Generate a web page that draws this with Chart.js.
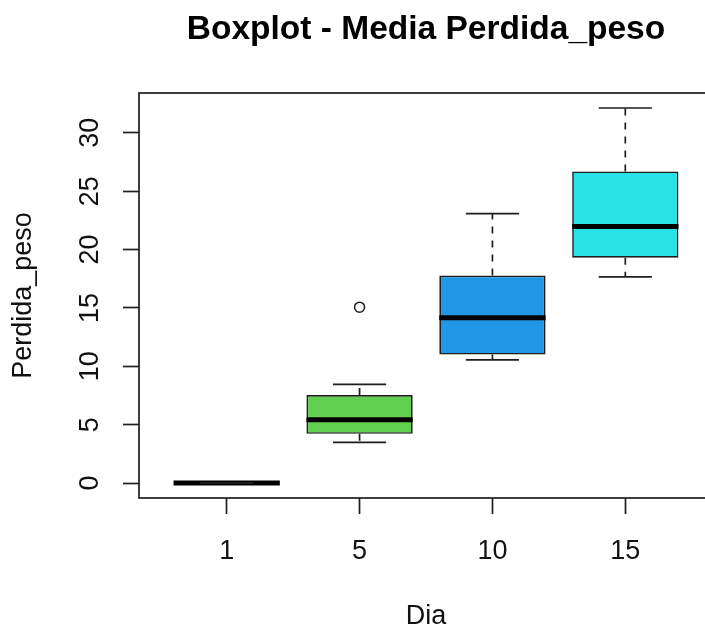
<!DOCTYPE html>
<html>
<head>
<meta charset="utf-8">
<script src="https://cdn.jsdelivr.net/npm/chart.js@4.4.1/dist/chart.umd.min.js"></script>
<style>
  html, body { margin: 0; padding: 0; overflow: hidden; background: #fff; }
  canvas { display: block; }
</style>
</head>
<body>
<canvas id="chart" width="852" height="640"></canvas>
<script>
// Weight loss per day: five-number summaries for each box
const categories  = ['1', '5', '10', '15'];
const whiskerLow  = [0, 3.48, 10.55, 17.65];
const boxQ1       = [0, 4.21, 11.00, 19.30];
const medians     = [0, 5.41, 14.15, 21.98];
const boxQ3       = [0, 7.53, 17.77, 26.69];
const whiskerHigh = [0, 8.45, 23.08, 32.12];
const outlierDays   = ['5'];
const outlierValues = [15.06];
const boxColors = ['#DF536B', '#61D04F', '#2297E6', '#28E2E5'];
const yTicks = [0, 5, 10, 15, 20, 25, 30];

const BOX_HALF = 0.4;      // half box width, in category units
const STAPLE_HALF = 0.2;   // half whisker-cap width
const INK = '#1e1e1e';
const FONT = 'Liberation Sans, Arial, sans-serif';

// axis limits: data range widened by 4% on both sides
const allValues = [...whiskerLow, ...whiskerHigh, ...outlierValues];
const yLo = Math.min(...allValues), yHi = Math.max(...allValues);
const yPad = (yHi - yLo) * 0.04;
const xPad = categories.length * 0.04;

const pos = i => i + 1;

// whiskers: q1 -> low and q3 -> high, separated by gaps
const whiskerPoints = [];
categories.forEach((c, i) => {
  whiskerPoints.push(
    { x: pos(i), y: boxQ1[i] }, { x: pos(i), y: whiskerLow[i] }, { x: pos(i), y: null },
    { x: pos(i), y: boxQ3[i] }, { x: pos(i), y: whiskerHigh[i] }, { x: pos(i), y: null }
  );
});

const staplePoints = [];
categories.forEach((c, i) => {
  staplePoints.push({ x: pos(i), y: whiskerLow[i] }, { x: pos(i), y: whiskerHigh[i] });
});

// half-width in pixels of a span given in category units
const halfPx = (ctx, half) => {
  const s = ctx.chart.scales.x;
  return s.getPixelForValue(1 + half) - s.getPixelForValue(1);
};

const plotFrame = {
  id: 'plotFrame',
  afterDraw(chart) {
    const { ctx, chartArea: a } = chart;
    ctx.save();
    ctx.strokeStyle = INK;
    ctx.lineWidth = 1.7;
    ctx.strokeRect(a.left, a.top, a.right - a.left, a.bottom - a.top);
    ctx.restore();
  }
};

const tickGrid = {
  display: true, drawOnChartArea: false, drawTicks: true,
  tickLength: 16, tickColor: INK, tickWidth: 1.7, offset: false
};

new Chart(document.getElementById('chart'), {
  type: 'bar',
  data: {
    datasets: [
      {
        type: 'line', order: 5,
        data: whiskerPoints,
        borderColor: INK, borderWidth: 1.7, borderDash: [7, 7],
        pointRadius: 0, spanGaps: false, tension: 0
      },
      {
        type: 'bar', order: 4,
        data: categories.map((c, i) => ({ x: pos(i), y: [boxQ1[i], boxQ3[i]] })),
        backgroundColor: boxColors, borderColor: INK, borderWidth: 1.7,
        borderSkipped: false, categoryPercentage: 1, barPercentage: 2 * BOX_HALF
      },
      {
        type: 'line', order: 3, showLine: false,
        data: medians.map((m, i) => ({ x: pos(i), y: m })),
        pointStyle: 'line', pointBorderColor: '#000', pointBorderWidth: 5,
        pointRadius: c => halfPx(c, BOX_HALF)
      },
      {
        type: 'line', order: 2, showLine: false,
        data: staplePoints,
        pointStyle: 'line', pointBorderColor: INK, pointBorderWidth: 1.7,
        pointRadius: c => halfPx(c, STAPLE_HALF)
      },
      {
        type: 'line', order: 1, showLine: false,
        data: outlierDays.map((d, k) => ({ x: categories.indexOf(d) + 1, y: outlierValues[k] })),
        pointStyle: 'circle', pointRadius: 5, pointBorderWidth: 1.5,
        pointBorderColor: INK, pointBackgroundColor: 'rgba(0,0,0,0)'
      }
    ]
  },
  options: {
    responsive: false,
    animation: false,
    devicePixelRatio: 1,
    events: [],
    layout: { padding: 0 },
    plugins: {
      legend: { display: false },
      tooltip: { enabled: false },
      title: {
        display: true,
        text: 'Boxplot - Media Perdida_peso',
        color: '#000',
        font: { family: FONT, size: 33.5, weight: 'bold' },
        padding: { top: 10, bottom: 42.8 }
      }
    },
    scales: {
      x: {
        type: 'linear', position: 'bottom', offset: false,
        min: 0.5 - xPad, max: categories.length + 0.5 + xPad,
        afterBuildTicks: s => { s.ticks = categories.map((c, i) => ({ value: pos(i) })); },
        afterFit: s => { s.height = 142; },
        ticks: {
          autoSkip: false, maxRotation: 0, padding: 21, color: '#111',
          font: { family: FONT, size: 27 },
          callback: v => categories[Math.round(v) - 1]
        },
        grid: tickGrid,
        border: { display: false },
        title: {
          display: true, text: 'Dia', color: '#111',
          font: { family: FONT, size: 27 }, padding: { bottom: 7 }
        }
      },
      y: {
        type: 'linear', position: 'left',
        min: yLo - yPad, max: yHi + yPad,
        afterBuildTicks: s => { s.ticks = yTicks.map(v => ({ value: v })); },
        afterFit: s => { s.width = 139; },
        ticks: {
          autoSkip: false, minRotation: 90, maxRotation: 90, crossAlign: 'center',
          padding: 17, color: '#111',
          font: { family: FONT, size: 27 },
          callback: v => String(v)
        },
        grid: tickGrid,
        border: { display: false },
        title: {
          display: true, text: 'Perdida_peso', color: '#111',
          font: { family: FONT, size: 27 }, padding: { top: 7 }
        }
      },
      yRight: {
        type: 'linear', position: 'right', display: true,
        ticks: { display: false }, grid: { display: false }, border: { display: false },
        afterFit: s => { s.width = 139; }
      }
    }
  },
  plugins: [plotFrame]
});
</script>
</body>
</html>
